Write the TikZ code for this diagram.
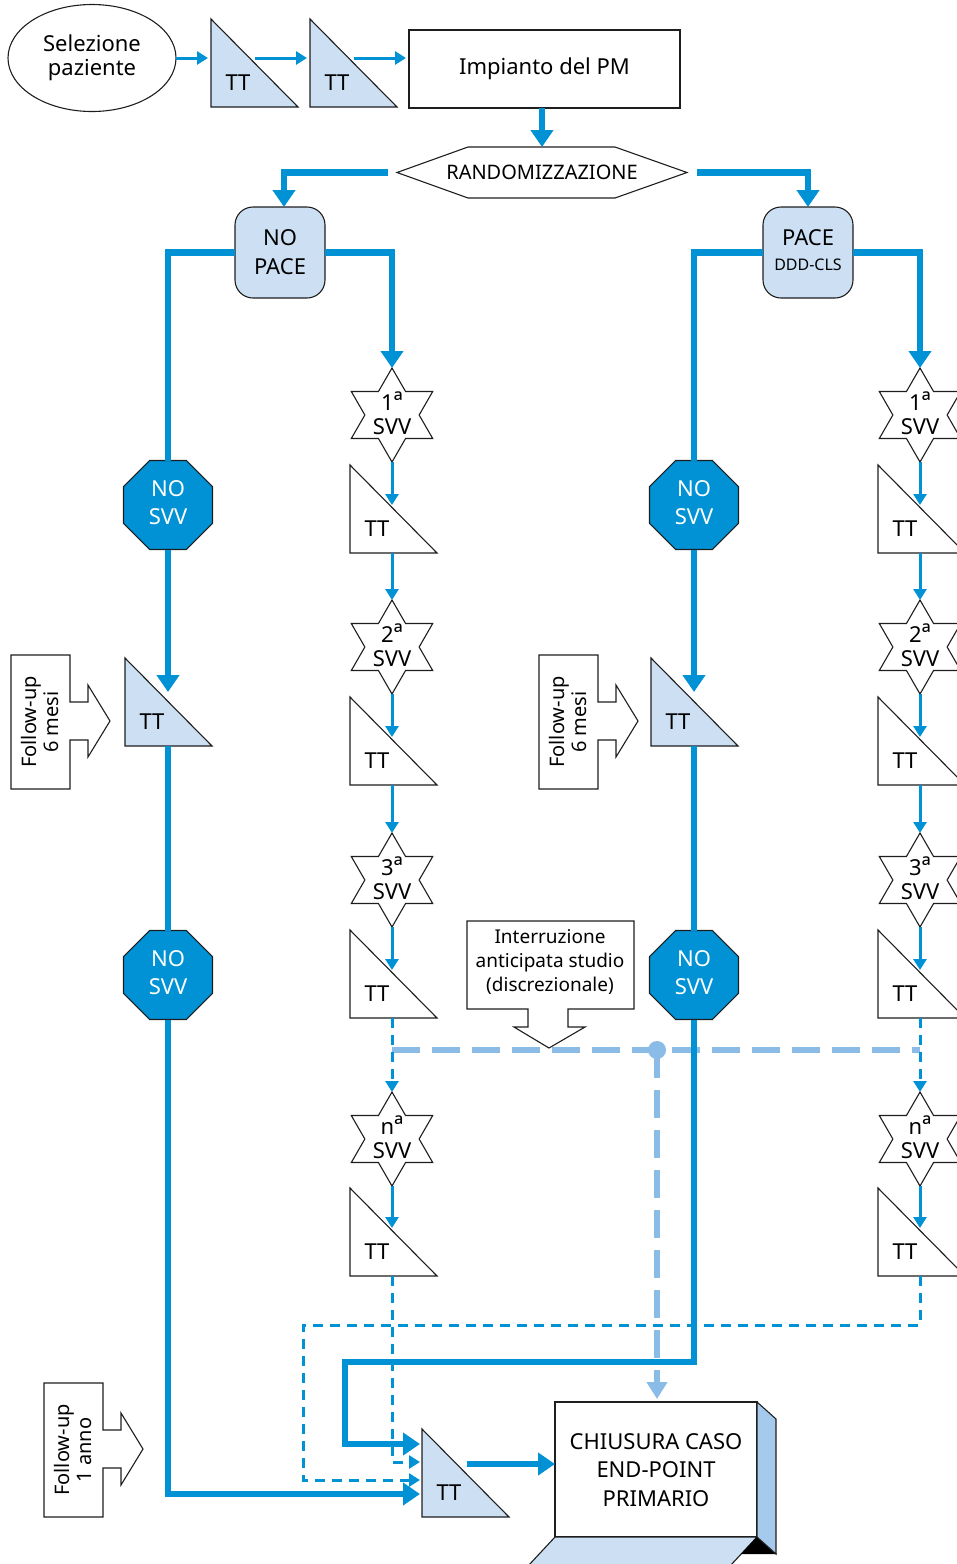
\documentclass[tikz,border=0pt]{standalone}
\usepackage{fontspec}
\setmainfont{Noto Sans}
\usetikzlibrary{arrows.meta,shapes.geometric,calc}
\definecolor{mainblue}{RGB}{0,146,212}
\definecolor{paleblue}{RGB}{204,223,243}
\definecolor{softblue}{RGB}{139,188,232}
\definecolor{sideblue}{RGB}{166,202,236}
\definecolor{edge}{RGB}{30,30,30}

\tikzset{
  txt/.style={inner sep=0pt, outer sep=0pt, font=\fontsize{22}{24}\selectfont, align=center},
  outline/.style={draw=edge, line width=1.1pt},
  tribox/.style={minimum width=87pt, minimum height=88pt, inner sep=0pt, outer sep=0pt},
  octo/.style={regular polygon, regular polygon sides=8, minimum size=96.3pt, inner sep=0pt, outer sep=0pt, outline, fill=mainblue},
  svvstar/.style={star, star points=6, star point ratio=1.732, minimum size=94pt, inner sep=0pt, outer sep=0pt, outline, fill=white},
  roundbox/.style={outline, fill=paleblue, rounded corners=18pt, minimum width=90pt, minimum height=91pt, inner sep=0pt, outer sep=0pt},
  thickline/.style={draw=mainblue, line width=6.5pt},
  thickflow/.style={thickline, -{Triangle[length=17pt,width=22pt]}},
  thinline/.style={draw=mainblue, line width=3pt},
  thinflow/.style={thinline, -{Triangle[length=11pt,width=13pt]}},
  dashflow/.style={thinflow, dash pattern=on 10pt off 7pt},
  softdash/.style={draw=softblue, line width=5.5pt, dash pattern=on 28pt off 12pt},
}

% right-angled "TT" triangle: name, left x, top y, fill
\newcommand\ttri[4]{%
  \node[tribox] (#1) at (#2+43.5,#3+44) {};
  \filldraw[outline, fill=#4] (#1.north west) -- (#1.south east) -- (#1.south west) -- cycle;
  \node[txt] at ($(#1.south west)+(27,-24)$) {TT};
}
% six-pointed visit star: name, x, y, ordinal
\newcommand\svv[4]{%
  \node[svvstar] (#1) at (#2,#3) {};
  \node[txt] at ($(#1)+(0,-2)$) {#4{\fontsize{26}{24}\selectfont ª}\\SVV};
}
% octagon "NO SVV": name, x, y
\newcommand\octsvv[3]{%
  \node[octo] (#1) at (#2,#3) {};
  \node[txt, text=white, font=\fontsize{22}{28}\selectfont] at ($(#1)+(0,-2)$) {NO\\SVV};
}
% follow-up arrow-shaped label: name, left x, top y, text
\newcommand\fup[4]{%
  \coordinate (#1) at (#2,#3);
  \filldraw[outline, fill=white] (#1) -- ++(59,0) -- ++(0,47) -- ++(18,0) -- ++(0,-17)
     -- ++(22,36) -- ++(-22,36) -- ++(0,-17) -- ++(-18,0) -- ++(0,49) -- ++(-59,0) -- cycle;
  \node[txt, rotate=90, font=\fontsize{20}{22}\selectfont] at ($(#1)+(29,67)$) {#4};
}

\begin{document}
\begin{tikzpicture}[x=1pt,y=-1pt]
\clip (0,0) rectangle (957,1564);

% ---- top row ----
\node[ellipse, outline, minimum width=168pt, minimum height=107pt, inner sep=0pt, outer sep=0pt] (sel) at (92,58) {};
\node[txt] at (sel) {Selezione\\paziente};
\ttri{ta}{211}{19}{paleblue}
\ttri{tb}{310}{19}{paleblue}
\node[outline, minimum width=271pt, minimum height=78pt, inner sep=0pt, outer sep=0pt] (imp) at (544.5,69) {};
\node[txt] at (imp) {Impianto del PM};
\draw[thinflow] (sel.east) -- ($(sel.east -| ta.west)+(-3,0)$);
\draw[thinflow] ($(ta.north west)+(44,39)$) -- ($(tb.north west)+(-3,39)$);
\draw[thinflow] ($(tb.north west)+(44,39)$) -- ($(imp.west |- sel.east)+(-3,0)$);

% ---- randomisation ----
\node[txt, minimum width=290pt, minimum height=51pt, font=\fontsize{20}{24}\selectfont] (rand) at (542,172.5) {RANDOMIZZAZIONE};
\draw[outline] (rand.west) -- ($(rand.north west)+(71,0)$) -- ($(rand.north east)+(-72,0)$) -- (rand.east)
   -- ($(rand.south east)+(-72,0)$) -- ($(rand.south west)+(71,0)$) -- cycle;
\draw[thickflow] (imp.south -| rand.north) -- (rand.north);

\node[roundbox] (nopace) at (280,252.5) {};
\node[txt, font=\fontsize{22}{29}\selectfont] at (nopace) {NO\\PACE};
\node[roundbox] (pace) at (808,252.5) {};
\node[txt] at (808,238) {PACE};
\node[txt, font=\fontsize{16}{18}\selectfont] at (808,265) {DDD-CLS};
\draw[thickflow] ($(rand.west)+(-9,0)$) -| ($(nopace.north)+(4,0)$);
\draw[thickflow] ($(rand.east)+(10,0)$) -| (pace.north);

% ---- shapes of the four columns ----
\octsvv{o1}{168}{505}
\ttri{l1}{125}{658}{paleblue}
\octsvv{o2}{168}{975}
\fup{f1}{11}{655}{Follow-up\\6 mesi}

\svv{s21}{392}{415}{1}
\ttri{t21}{350}{465}{white}
\svv{s22}{392}{647}{2}
\ttri{t22}{350}{697}{white}
\svv{s23}{392}{880}{3}
\ttri{t23}{350}{930}{white}
\svv{s2n}{392}{1139}{n}
\ttri{t2n}{350}{1188}{white}

\octsvv{o3}{694}{505}
\ttri{l3}{651}{658}{paleblue}
\octsvv{o4}{694}{975}
\fup{f2}{539}{655}{Follow-up\\6 mesi}

\svv{s41}{920}{415}{1}
\ttri{t41}{878}{465}{white}
\svv{s42}{920}{647}{2}
\ttri{t42}{878}{697}{white}
\svv{s43}{920}{880}{3}
\ttri{t43}{878}{930}{white}
\svv{s4n}{920}{1139}{n}
\ttri{t4n}{878}{1188}{white}

\fup{f3}{44}{1383}{Follow-up\\1 anno}

% ---- closing case ----
\ttri{bt}{422}{1429}{paleblue}
\node[outline, fill=white, minimum width=202pt, minimum height=135pt, inner sep=0pt, outer sep=0pt] (box) at (656,1469.5) {};
\node[txt, font=\fontsize{22}{28.5}\selectfont] at (656,1470) {CHIUSURA CASO\\END-POINT\\PRIMARIO};
\filldraw[outline, fill=paleblue] (box.south west) -- (box.south east) -- ++(-27,29) -- ++(-202,0) -- cycle;
\fill[black] (box.south east) -- ++(20,17) -- ++(-36,0) -- cycle;
\filldraw[outline, fill=sideblue] (box.north east) -- ++(19,17) -- ++(0,135) -- (box.south east) -- cycle;

% ---- early interruption ----
\coordinate (ia) at (392,1050);
\coordinate (ib) at (920,1050);
\coordinate (jn) at (657,1050);
\draw[softdash] (ia) -- (ib);
\draw[softdash, -{Triangle[length=17pt,width=20pt]}] (jn) -- ($(jn |- box.north)+(0,-3)$);
\fill[softblue] (jn) circle (9pt);
\coordinate (intr) at (467,921);
\filldraw[outline, fill=white] (intr) -- ++(167,0) -- ++(0,88) -- ++(-66,0) -- ++(0,18) -- ++(17,0)
   -- ++(-36,21) -- ++(-35,-21) -- ++(14,0) -- ++(0,-18) -- ++(-61,0) -- cycle;
\node[txt, font=\fontsize{19}{24}\selectfont] at (550,962) {Interruzione\\anticipata studio\\(discrezionale)};

% ---- connectors: NO PACE arm ----
\draw[thickline] (nopace.west) -| (o1.north);
\draw[thickflow] (o1.south) -- ($(l1.north west)+(43,34)$);
\draw[thickline] (l1.south west -| o1.south) -- (o2.north);
\draw[thickflow] (o2.south) |- ($(bt.south west)+(-2,-23)$);

\draw[thickflow] (nopace.east) -| (s21.north);
\draw[thinflow] (s21.south) -- ($(t21.north west)+(42,40)$);
\draw[thinflow] (t21.south west -| s21.south) -- (s22.north);
\draw[thinflow] (s22.south) -- ($(t22.north west)+(42,40)$);
\draw[thinflow] (t22.south west -| s21.south) -- (s23.north);
\draw[thinflow] (s23.south) -- ($(t23.north west)+(42,40)$);
\draw[dashflow] (t23.south west -| s21.south) -- (s2n.north);
\draw[thinflow] (s2n.south) -- ($(t2n.north west)+(42,40)$);
\draw[dashflow] (t2n.south west -| s21.south) |- ($(bt.south west)+(-2,-55)$);

% ---- connectors: PACE arm ----
\draw[thickline] (pace.west) -| (o3.north);
\draw[thickflow] (o3.south) -- ($(l3.north west)+(43,34)$);
\draw[thickline] (l3.south west -| o3.south) -- (o4.north);
\coordinate (tk) at (345,1362);
\draw[thickflow] (o4.south) |- (tk) |- ($(bt.south west)+(-2,-73)$);

\draw[thickflow] (pace.east) -| (s41.north);
\draw[thinflow] (s41.south) -- ($(t41.north west)+(42,40)$);
\draw[thinflow] (t41.south west -| s41.south) -- (s42.north);
\draw[thinflow] (s42.south) -- ($(t42.north west)+(42,40)$);
\draw[thinflow] (t42.south west -| s41.south) -- (s43.north);
\draw[thinflow] (s43.south) -- ($(t43.north west)+(42,40)$);
\draw[dashflow] (t43.south west -| s41.south) -- (s4n.north);
\draw[thinflow] (s4n.south) -- ($(t4n.north west)+(42,40)$);
\coordinate (dl) at (303,1325);
\draw[dashflow] (t4n.south west -| s41.south) |- (dl) |- ($(bt.south west)+(-2,-37)$);

% ---- into the closing box ----
\coordinate (bo) at ($(bt.south west)+(45,-53)$);
\draw[thickflow] (bo) -- (bo -| box.west);
\end{tikzpicture}
\end{document}
